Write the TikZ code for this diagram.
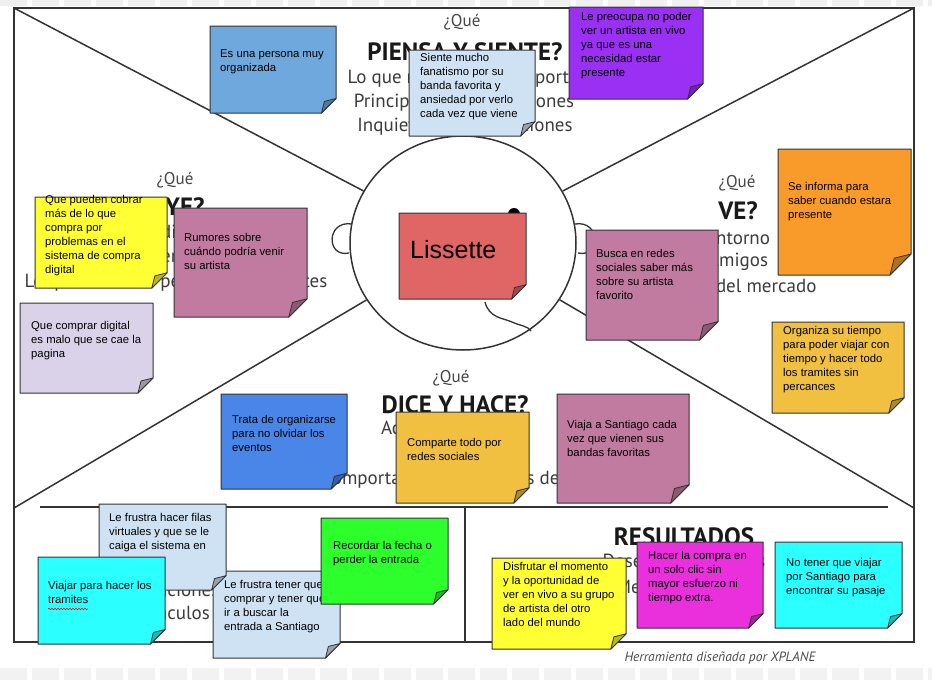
\documentclass[tikz,border=0pt]{standalone}
\usepackage{fontspec}
\usetikzlibrary{shapes.geometric,decorations.pathmorphing}
\newfontfamily\notefont{Liberation Sans}
\newfontfamily\labelfont{PT Sans}
\definecolor{edge}{HTML}{333333}
\definecolor{blueA}{HTML}{6FA8DC}
\definecolor{blueB}{HTML}{4A86E8}
\definecolor{lblue}{HTML}{CFE2F3}
\definecolor{purp}{HTML}{9B30F5}
\definecolor{orng}{HTML}{F99B2B}
\definecolor{gold}{HTML}{F1C040}
\definecolor{mauve}{HTML}{C27BA0}
\definecolor{yell}{HTML}{FFFF33}
\definecolor{lav}{HTML}{D9D2E9}
\definecolor{redn}{HTML}{E06666}
\definecolor{cyann}{HTML}{2BFFFF}
\definecolor{greenn}{HTML}{2DFF2D}
\definecolor{magn}{HTML}{EA2FDC}
\definecolor{lbltxt}{HTML}{3C3C3C}
\tikzset{
  frame/.style={draw=edge, line width=1.5pt},
  notetext/.style={font=\notefont\fontsize{11.3}{13.9}\selectfont, align=left, inner sep=0pt, text=black, anchor=north west},
  que/.style={font=\labelfont\fontsize{17}{17}\selectfont, text=black!72, inner sep=0pt},
  ttl/.style={font=\labelfont\bfseries\fontsize{25}{25}\selectfont, text=black!90, inner sep=0pt},
  lbl/.style={font=\labelfont\fontsize{19}{19}\selectfont, text=lbltxt, inner sep=0pt},
}
\newcommand\sticky[9]{%
  \pgfmathsetmacro\fcorner{min(#4-#2,#5-#3)/6}%
  \filldraw[fill=#6, draw=edge, line width=1pt, line join=round] (#2,#3) -- (#4,#3) -- (#4,#5-\fcorner) -- (#4-\fcorner,#5) -- (#2,#5) -- cycle;
  \filldraw[fill=#6!72!black, draw=edge, line width=0.8pt, line join=round] (#4,#5-\fcorner) -- (#4-0.8*\fcorner,#5-0.8*\fcorner) -- (#4-\fcorner,#5) -- cycle;
  \node[notetext] (#1) at (#7,#8-5.5) {#9};
}
\begin{document}
\begin{tikzpicture}[x=1pt,y=-1pt]
\useasboundingbox (0,0) rectangle (932,680);
\fill[white] (0,0) rectangle (932,680);
\draw[black!6, line width=6pt, dash pattern=on 27pt off 5pt] (0,3) -- (932,3);
\draw[black!5, line width=12pt, dash pattern=on 27pt off 5pt] (0,674) -- (932,674);
% frame
\coordinate (tl) at (14,8);
\coordinate (tr) at (914,8);
\coordinate (bl) at (14,508);
\coordinate (br) at (914,508);
\coordinate (hl) at (40,507);
\coordinate (hr) at (888,507);
\coordinate (vt) at (465,507);
\coordinate (vb) at (465,642);
\draw[frame] (14,8) rectangle (914,642);
\node[ellipse, draw=edge, line width=1.5pt, fill=white, minimum width=226pt, minimum height=214pt, inner sep=0pt] (head) at (463,243) {};
\draw[frame] (tl) -- (head);
\draw[frame] (tr) -- (head);
\draw[frame] (bl) -- (head);
\draw[frame] (br) -- (head);
\draw[frame] (hl) -- (hr);
\draw[frame] (vt) -- (vb);
% ears, mouth, eye
\draw[draw=edge, line width=1.3pt] (352,224) .. controls (326,220) and (326,258) .. (349,253);
\draw[draw=edge, line width=1.3pt] (575,224) .. controls (601,220) and (601,258) .. (578,253);
\draw[draw=edge, line width=1.3pt] (485,302) .. controls (489,318) and (503,318) .. (512,322) .. controls (521,326) and (528,326) .. (531,331);
\fill[black] (514,214) circle (6pt);
% background labels
\node[que] (q1) at (462,22) {¿Qué};
\node[ttl] (t1) at (465,52) {PIENSA Y SIENTE?};
\node[lbl] (l1a) at (463,79) {Lo que realmente le importa};
\node[lbl] (l1b) at (464,103) {Principales preocupaciones};
\node[lbl] (l1c) at (465,127) {Inquietudes y aspiraciones};
\node[que] (q2) at (175,180) {¿Qué};
\node[ttl] (t2) at (177,207) {OYE?};
\node[lbl] (l2a) at (176,234) {Lo que dice el jefe};
\node[lbl] (l2b) at (176,258) {Lo que dicen los amigos};
\node[lbl] (l2c) at (176,283) {Lo que dicen las personas influyentes};
\node[que] (q3) at (737,183) {¿Qué};
\node[ttl] (t3) at (738,211) {VE?};
\node[lbl] (l3a) at (738,238) {Entorno};
\node[lbl] (l3b) at (738,262) {Amigos};
\node[lbl] (l3c) at (738,286) {Oferta del mercado};
\node[que] (q4) at (451,378) {¿Qué};
\node[ttl] (t4) at (455,405) {DICE Y HACE?};
\node[lbl] (l4a) at (455,430) {Actitud en público};
\node[lbl] (l4b) at (455,455) {Aspecto};
\node[lbl] (l4c) at (457,480) {Comportamiento hacia los demás};
\node[ttl] (t5) at (163,537) {ESFUERZOS};
\node[lbl] (l5a) at (165,565) {Miedos};
\node[lbl] (l5b) at (165,590) {Frustraciones};
\node[lbl] (l5c) at (165,613) {Obstáculos};
\node[ttl] (t6) at (684,537) {RESULTADOS};
\node[lbl] (l6a) at (684,562) {Deseos/necesidades};
\node[lbl] (l6b) at (684,587) {Medida del éxito};
\node[font=\labelfont\itshape\fontsize{13.5}{13.5}\selectfont, text=black!70, inner sep=0pt] (foot) at (720,658) {Herramienta diseñada por XPLANE};
% sticky notes
\sticky{n1}{210}{26}{336}{113}{blueA}{220}{55}{Es una persona muy\\organizada}
\sticky{n2}{409}{50}{535}{136}{lblue}{420}{59}{Siente mucho\\fanatismo por su\\banda favorita y\\ansiedad por verlo\\cada vez que viene}
\sticky{n3}{569}{7}{703}{99}{purp}{581}{18}{Le preocupa no poder\\ver un artista en vivo\\ya que es una\\necesidad estar\\presente}
\sticky{n4}{778}{149}{911}{275}{orng}{788}{188}{Se informa para\\saber cuando estara\\presente}
\sticky{n5}{772}{322}{904}{413}{gold}{783}{332}{Organiza su tiempo\\para poder viajar con\\tiempo y hacer todo\\los tramites sin\\percances}
\sticky{n6}{586}{230}{718}{340}{mauve}{596}{255}{Busca en redes\\sociales saber más\\sobre su artista\\favorito}
\sticky{n7}{35}{197}{167}{288}{yell}{45}{201}{Que pueden cobrar\\más de lo que\\compra por\\problemas en el\\sistema de compra\\digital}
\sticky{n8}{174}{208}{307}{317}{mauve}{184}{239}{Rumores sobre\\cuándo podría venir\\su artista}
\sticky{n9}{20}{303}{153}{393}{lav}{31}{327}{Que comprar digital\\es malo que se cae la\\pagina}
\sticky{n10}{399}{213}{526}{299}{redn}{0}{0}{}
\node[font=\notefont\fontsize{25}{25}\selectfont, inner sep=0pt, anchor=base west] (liss) at (410,258) {Lissette};
\sticky{n11}{221}{394}{347}{489}{blueB}{232}{421}{Trata de organizarse\\para no olvidar los\\eventos}
\sticky{n12}{396}{412}{529}{503}{gold}{407}{444}{Comparte todo por\\redes sociales}
\sticky{n13}{557}{394}{689}{503}{mauve}{567}{426}{Viaja a Santiago cada\\vez que vienen sus\\bandas favoritas}
\sticky{n16}{213}{571}{340}{658}{lblue}{224}{586}{Le frustra tener que\\comprar y tener que\\ir a buscar la\\entrada a Santiago}
\sticky{n14}{99}{504}{226}{590}{lblue}{109}{519}{Le frustra hacer filas\\virtuales y que se le\\caiga el sistema en}
\sticky{n15}{38}{557}{165}{644}{cyann}{48}{587}{Viajar para hacer los\\tramites}
\draw[red, line width=0.6pt, decorate, decoration={snake, amplitude=0.7pt, segment length=3pt}] (48,609) -- (88,609);
\sticky{n17}{321}{518}{448}{604}{greenn}{333}{547}{Recordar la fecha o\\perder la entrada}
\sticky{n18}{492}{558}{626}{649}{yell}{503}{568}{Disfrutar el momento\\y la oportunidad de\\ver en vivo a su grupo\\de artista del otro\\lado del mundo}
\sticky{n19}{637}{542}{763}{628}{magn}{648}{557}{Hacer la compra en\\un solo clic sin\\mayor esfuerzo ni\\tiempo extra.}
\sticky{n20}{775}{542}{902}{628}{cyann}{786}{564}{No tener que viajar\\por Santiago para\\encontrar su pasaje}
\end{tikzpicture}
\end{document}
